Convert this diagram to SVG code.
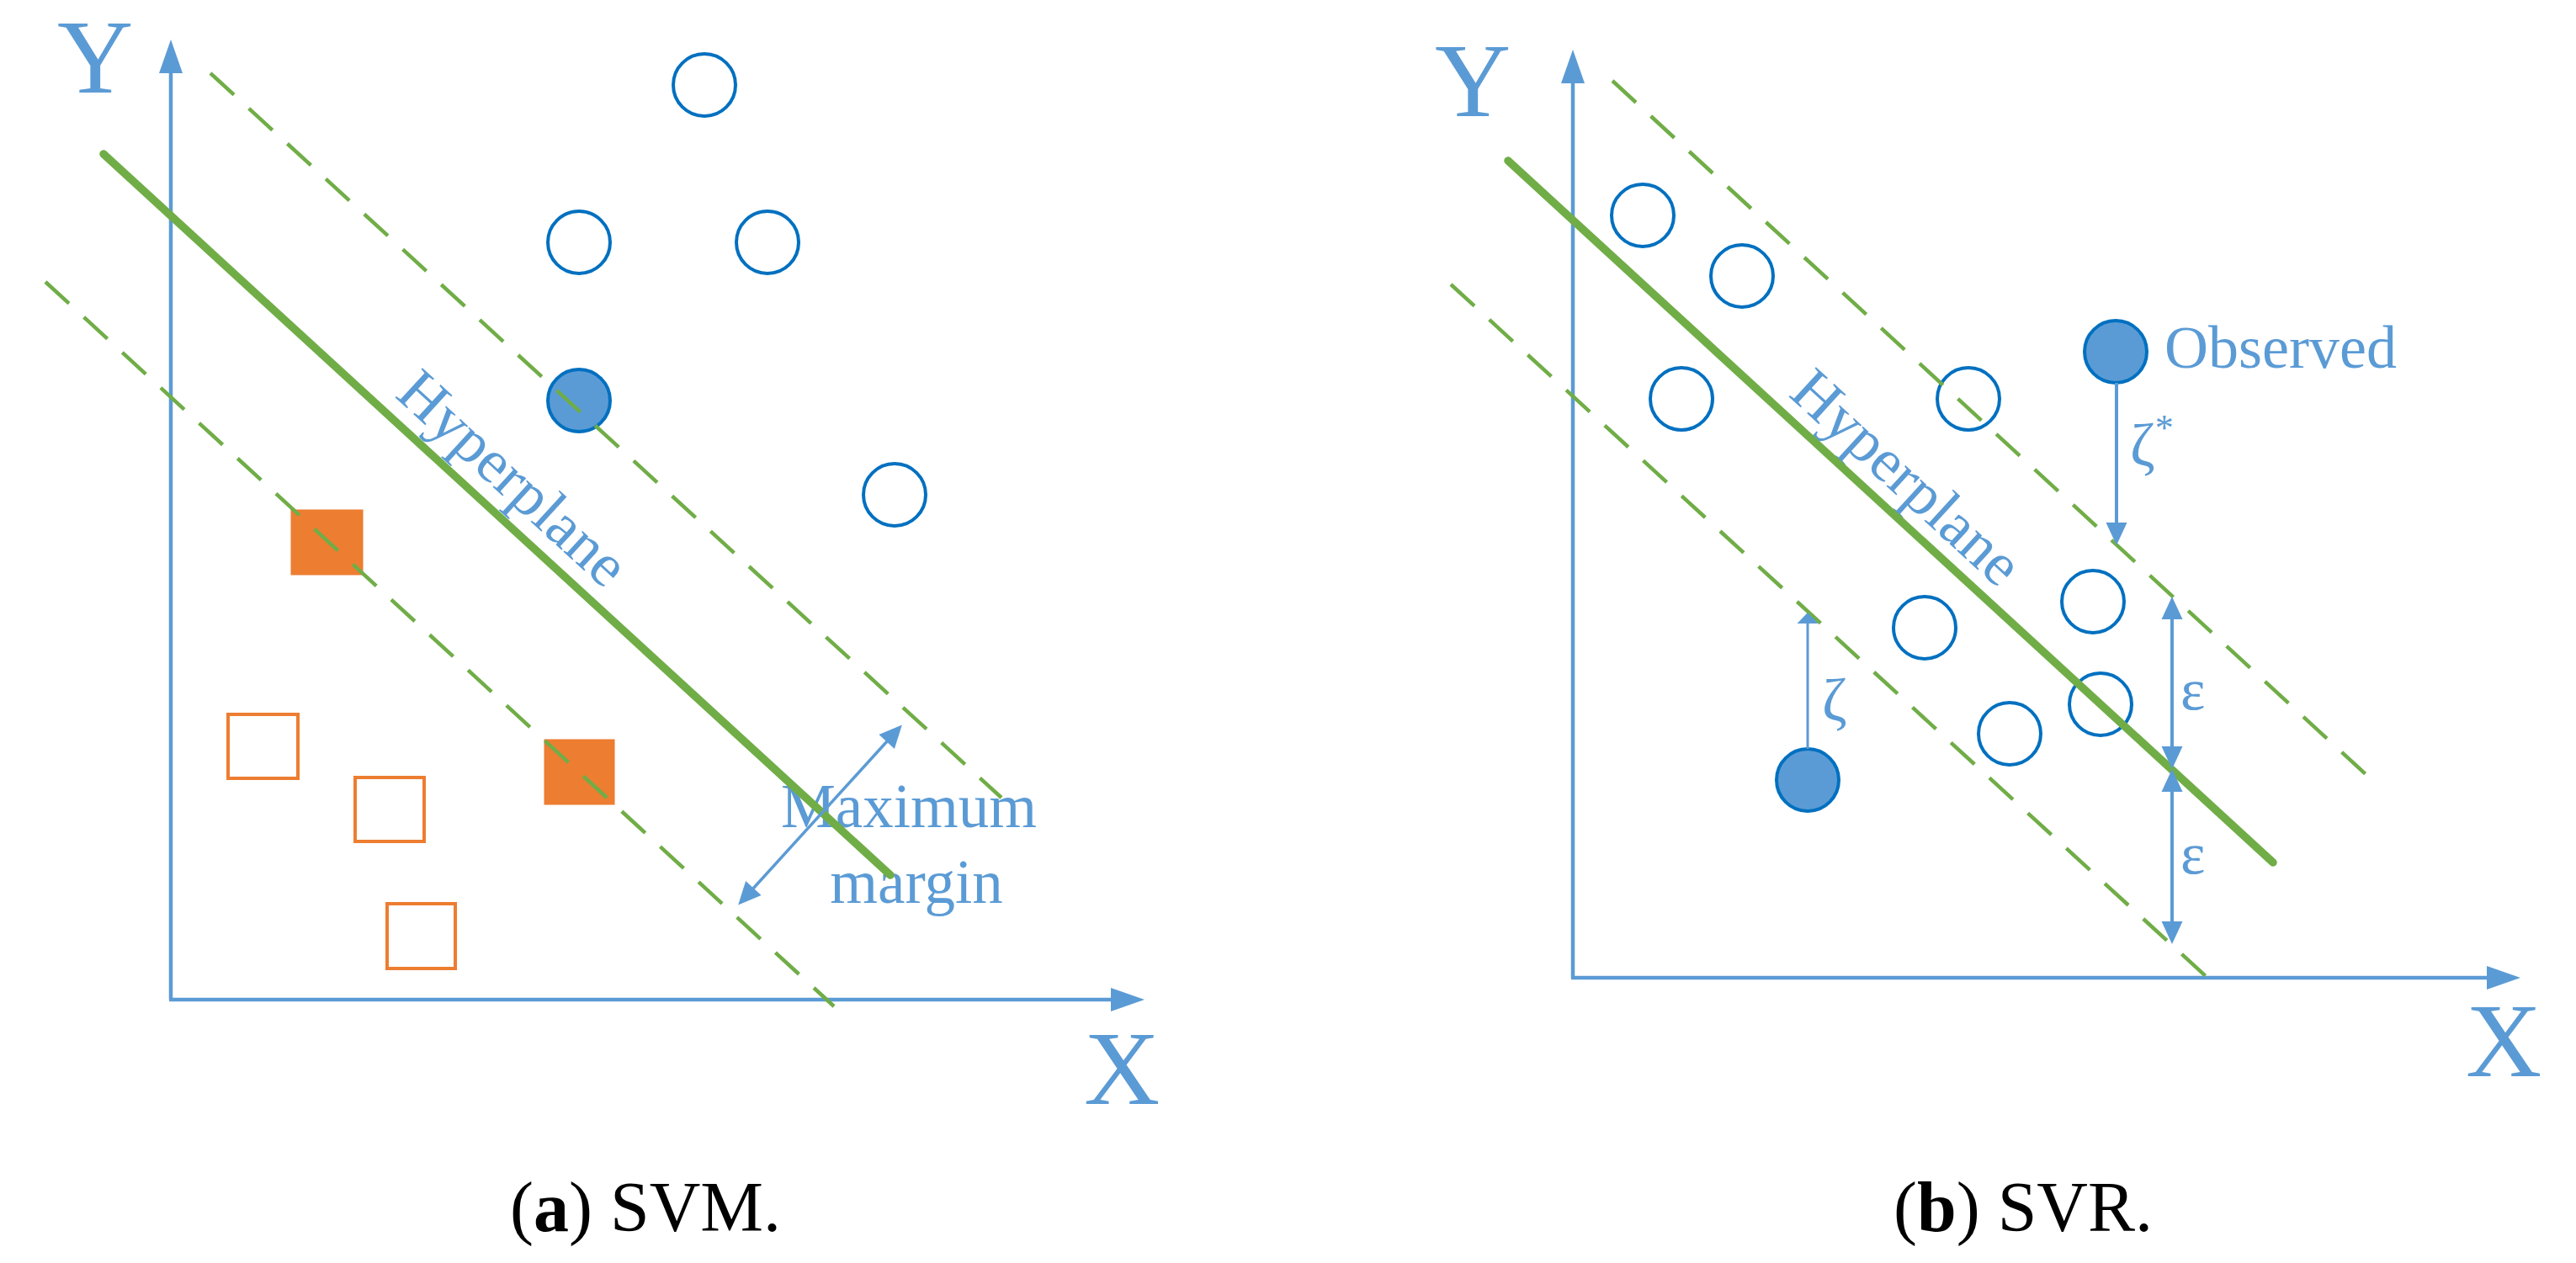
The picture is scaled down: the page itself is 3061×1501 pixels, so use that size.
<svg xmlns="http://www.w3.org/2000/svg" width="3061" height="1501" viewBox="0 0 3061 1501">
<style>
.bg{fill:#ffffff}
.lbl{font-family:"Liberation Serif","Times New Roman",serif;fill:#5B9BD5}
.cap{font-family:"Liberation Serif","Times New Roman",serif;fill:#000000;font-size:84px}
.pt{fill:#ffffff;stroke:#0070C0;stroke-width:4}
.ptf{fill:#5B9BD5;stroke:#0070C0;stroke-width:4}
.sq{fill:#ffffff;stroke:#ED7D31;stroke-width:4}
.sqf{fill:#ED7D31;stroke:#ED7D31;stroke-width:1}
.hyp{stroke:#70AD47;stroke-width:9.5;stroke-linecap:round;fill:none}
.dash{stroke:#70AD47;stroke-width:4.5;stroke-dasharray:38 24;fill:none}
.axis{stroke:#5B9BD5;stroke-width:4.5;fill:none}
.arr{stroke:#5B9BD5;stroke-width:4;fill:none}
</style>
<defs>
<marker id="ax" markerUnits="userSpaceOnUse" markerWidth="40" markerHeight="28" refX="2" refY="14" orient="auto-start-reverse" overflow="visible"><path d="M0,0 L40,14 L0,28 z" fill="#5B9BD5"/></marker>
<marker id="ah" markerUnits="userSpaceOnUse" markerWidth="27" markerHeight="25" refX="2" refY="12.5" orient="auto-start-reverse" overflow="visible"><path d="M0,0 L27,12.5 L0,25 z" fill="#5B9BD5"/></marker>
<marker id="ahs" markerUnits="userSpaceOnUse" markerWidth="13" markerHeight="25" refX="1" refY="12.5" orient="auto-start-reverse" overflow="visible"><path d="M0,0 L13,12.5 L0,25 z" fill="#5B9BD5"/></marker>
</defs>
<rect class="bg" x="0" y="0" width="3061" height="1501"/>

<!-- Panel (a) SVM -->
<g id="svm">
  <g id="svm-axes">
    <path class="axis" d="M203,1188 V85" marker-end="url(#ax)"/>
    <path class="axis" d="M201,1188 H1322" marker-end="url(#ax)"/>
    <text class="lbl" x="68" y="110" font-size="125">Y</text>
    <text class="lbl" x="1288" y="1312" font-size="125">X</text>
  </g>
  <g id="svm-c1"><circle class="pt" cx="837" cy="101" r="37"/></g>
  <g id="svm-c2"><circle class="pt" cx="688" cy="288" r="37"/></g>
  <g id="svm-c3"><circle class="pt" cx="912" cy="288" r="37"/></g>
  <g id="svm-c4"><circle class="ptf" cx="688" cy="476" r="37"/></g>
  <g id="svm-c5"><circle class="pt" cx="1063" cy="588" r="37"/></g>
  <g id="svm-s1"><rect class="sqf" x="346" y="606" width="85" height="77"/></g>
  <g id="svm-s2"><rect class="sqf" x="647" y="879" width="83" height="77"/></g>
  <g id="svm-s3"><rect class="sq" x="271" y="849" width="83" height="76"/></g>
  <g id="svm-s4"><rect class="sq" x="422" y="924" width="82" height="76"/></g>
  <g id="svm-s5"><rect class="sq" x="460" y="1074" width="81" height="77"/></g>
  <g id="svm-hyperplane-label"><text class="lbl" font-size="73" transform="translate(468,471) rotate(42.5)">Hyperplane</text></g>
  <g id="svm-margin-label">
    <text class="lbl" x="1080" y="983" font-size="73" text-anchor="middle">Maximum</text>
    <text class="lbl" x="1089" y="1073" font-size="73" text-anchor="middle">margin</text>
  </g>
  <g id="svm-lines">
    <path class="dash" d="M250,87 L1190,948"/>
    <path class="dash" d="M54,335 L991,1196"/>
    <path class="hyp" d="M123,183 L1058,1040"/>
    <path class="arr" style="stroke-width:3.5" d="M894,1057 L1055,880" marker-start="url(#ah)" marker-end="url(#ah)"/>
  </g>
</g>

<!-- Panel (b) SVR -->
<g id="svr">
  <g id="svr-axes">
    <path class="axis" d="M1869,1162 V97" marker-end="url(#ax)"/>
    <path class="axis" d="M1867,1162 H2957" marker-end="url(#ax)"/>
    <text class="lbl" x="1705" y="138" font-size="125">Y</text>
    <text class="lbl" x="2930" y="1279" font-size="125">X</text>
  </g>
  <g id="svr-c1"><circle class="pt" cx="1952" cy="256" r="37"/></g>
  <g id="svr-c2"><circle class="pt" cx="2070" cy="328" r="37"/></g>
  <g id="svr-c3"><circle class="pt" cx="1998" cy="474" r="37"/></g>
  <g id="svr-c4"><circle class="pt" cx="2339" cy="474" r="37"/></g>
  <g id="svr-c5"><circle class="pt" cx="2487" cy="715" r="37"/></g>
  <g id="svr-c6"><circle class="pt" cx="2287" cy="746" r="37"/></g>
  <g id="svr-c7"><circle class="pt" cx="2496" cy="837" r="37"/></g>
  <g id="svr-c8"><circle class="pt" cx="2388" cy="872" r="37"/></g>
  <g id="svr-observed">
    <circle class="ptf" cx="2514" cy="418" r="37"/>
    <text class="lbl" x="2572" y="437" font-size="72">Observed</text>
  </g>
  <g id="svr-zeta-point"><circle class="ptf" cx="2148" cy="927" r="37"/></g>
  <g id="svr-hyperplane-label"><text class="lbl" font-size="73" transform="translate(2124,470) rotate(42.5)">Hyperplane</text></g>
  <g id="svr-labels">
    <text class="lbl" x="2531" y="553" font-size="72">ζ<tspan font-size="44" dy="-30">*</tspan></text>
    <text class="lbl" x="2165" y="856" font-size="72">ζ</text>
    <text class="lbl" x="2591" y="843" font-size="70">ε</text>
    <text class="lbl" x="2591" y="1038" font-size="70">ε</text>
  </g>
  <g id="svr-lines">
    <path class="dash" d="M1916,96 L2824,932"/>
    <path class="dash" d="M1724,338 L2633,1171"/>
    <path class="hyp" d="M1792,191 L2701,1025"/>
    <path class="arr" d="M2515,455 V623" marker-end="url(#ah)"/>
    <path class="arr" d="M2581,734 V889" marker-start="url(#ah)" marker-end="url(#ah)"/>
    <path class="arr" d="M2581,939 V1097" marker-start="url(#ah)" marker-end="url(#ah)"/>
    <path class="arr" style="stroke-width:3" d="M2148,890 V740" marker-end="url(#ahs)"/>
  </g>
</g>

<!-- Captions -->
<g id="captions">
  <text class="cap" x="767" y="1463" text-anchor="middle">(<tspan font-weight="bold">a</tspan>) SVM.</text>
  <text class="cap" x="2404" y="1463" text-anchor="middle">(<tspan font-weight="bold">b</tspan>) SVR.</text>
</g>
</svg>
